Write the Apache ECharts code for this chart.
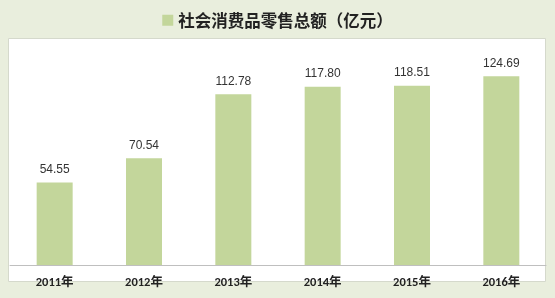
<!DOCTYPE html>
<html><head><meta charset="utf-8">
<script src="https://cdn.jsdelivr.net/npm/echarts@6/dist/echarts.min.js"></script>
<style>html,body{margin:0;padding:0;background:#E9EEDD;}#c{width:555px;height:298px;}</style>
</head><body><div id="c"></div>
<script>
const categories = ['2011年','2012年','2013年','2014年','2015年','2016年'];
const values = [54.55, 70.54, 112.78, 117.80, 118.51, 124.69];
const seriesName = '社会消费品零售总额（亿元）';

const chart = echarts.init(document.getElementById('c'), null, {renderer:'canvas'});
chart.setOption({
  backgroundColor: '#E9EEDD',
  animation: false,
  graphic: [{
    type: 'rect', left: 8, top: 38, z: -10,
    shape: {width: 537, height: 243},
    style: {fill: '#FFFFFF', stroke: '#D5D9CC', lineWidth: 1}
  }],
  legend: {
    top: 7, left: 'center',
    itemWidth: 11, itemHeight: 11, itemGap: 6,
    textStyle: {fontSize: 16.5, fontWeight: 'bold', color: '#222', fontFamily: '"Noto Sans CJK SC", sans-serif'},
    data: [{name: seriesName, icon: 'rect'}]
  },
  grid: {left: 10, right: 9, top: 38, bottom: 33, containLabel: false},
  xAxis: {
    type: 'category', data: categories,
    axisLine: {lineStyle: {color: '#BFBFBF'}},
    axisTick: {show: false},
    axisLabel: {fontSize: 12.5, color: '#222', fontWeight: 'bold', margin: 12, fontFamily: 'Calibri, "Liberation Sans", "Noto Sans CJK SC", sans-serif'}
  },
  yAxis: {type: 'value', min: 0, max: 150, show: false, splitLine: {show: false}},
  series: [{
    name: seriesName, type: 'bar', data: values, barWidth: 36,
    itemStyle: {color: '#C3D69B'},
    label: {show: true, position: 'top', distance: 7, fontSize: 12, color: '#333',
      formatter: p => p.value.toFixed(2), fontFamily: '"Liberation Sans", sans-serif'}
  }]
});
</script></body></html>
